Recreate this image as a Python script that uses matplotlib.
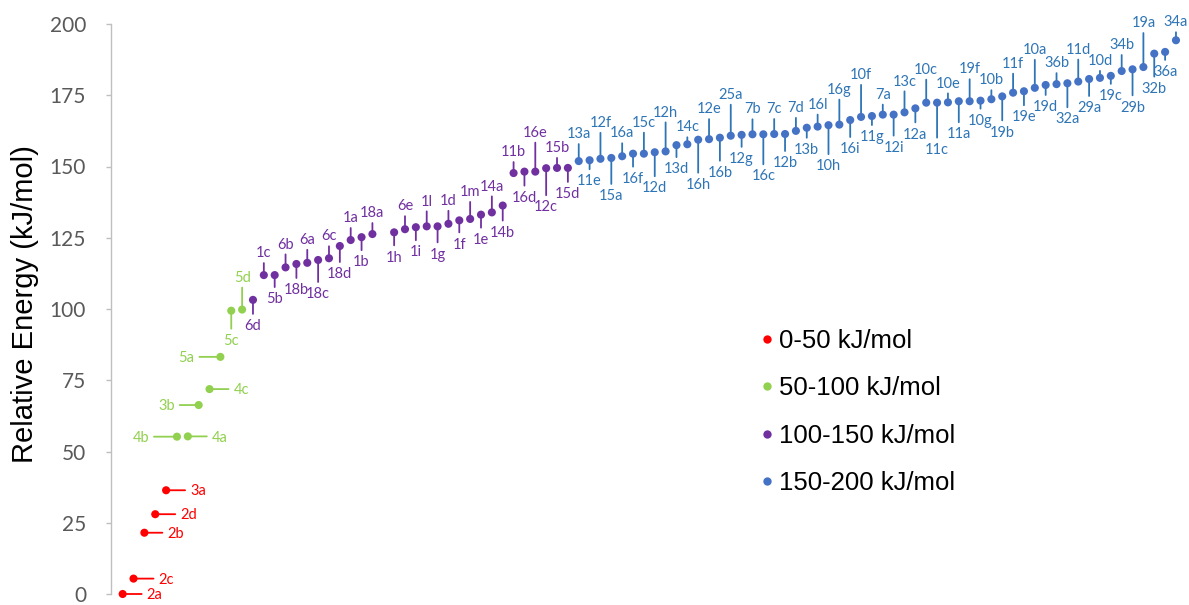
import numpy as np
import matplotlib
matplotlib.use("Agg")
import matplotlib.pyplot as plt
from matplotlib.lines import Line2D

# Compound labels ranked by relative energy ("" marks an empty rank slot)
compounds = [
    "2a", "2c", "2b", "2d", "3a", "4b", "4a", "3b", "4c", "5a",
    "5c", "5d", "6d", "1c", "5b", "6b", "18b", "6a", "18c", "6c",
    "18d", "1a", "1b", "18a", "", "1h", "6e", "1i", "1l", "1g",
    "1d", "1f", "1m", "1e", "14a", "14b", "11b", "16d", "16e", "12c",
    "15b", "15d", "13a", "11e", "12f", "15a", "16a", "16f", "15c", "12d",
    "12h", "13d", "14c", "16h", "12e", "16b", "25a", "12g", "7b", "16c",
    "7c", "12b", "7d", "13b", "16l", "10h", "16g", "16i", "10f", "11g",
    "7a", "12i", "13c", "12a", "10c", "11c", "10e", "11a", "19f", "10g",
    "10b", "19b", "11f", "19e", "10a", "19d", "36b", "32a", "11d", "29a",
    "10d", "19c", "34b", "29b", "19a", "32b", "36a", "34a",
]

# Relative energies in kJ/mol
energies = [
    0.0, 5.4, 21.5, 28.0, 36.4, 55.2, 55.3, 66.3, 71.9, 83.2,
    99.4, 99.8, 103.2, 111.9, 111.9, 114.6, 115.8, 116.2, 117.2, 117.8,
    122.1, 124.2, 125.2, 126.3, np.nan, 126.9, 128.0, 128.7, 129.0, 129.0,
    129.9, 131.1, 131.6, 133.1, 133.9, 136.3, 147.7, 148.2, 148.2, 149.4,
    149.5, 149.5, 151.9, 152.2, 152.7, 153.0, 153.6, 154.5, 154.5, 155.0,
    155.3, 157.5, 157.8, 159.4, 159.6, 160.1, 160.8, 161.1, 161.3, 161.3,
    161.4, 161.4, 162.5, 163.6, 164.0, 164.5, 164.7, 166.3, 167.4, 167.7,
    168.2, 168.2, 169.0, 170.4, 172.4, 172.4, 172.5, 172.9, 172.9, 173.1,
    173.6, 174.6, 175.9, 176.4, 177.6, 178.6, 178.9, 179.2, 179.8, 180.7,
    181.1, 181.8, 183.5, 184.1, 184.9, 189.6, 190.2, 194.3,
]

# Energy bins and legend text
bin_edges = [0, 50, 100, 150, 200]
bin_names = ["0-50 kJ/mol", "50-100 kJ/mol", "100-150 kJ/mol", "150-200 kJ/mol"]
y_ticks = [0, 25, 50, 75, 100, 125, 150, 175, 200]

# Styling per bin: marker colour, label / leader colour
marker_colors = ["#FF0000", "#92D050", "#7030A0", "#4472C4"]
text_colors = ["#FF0000", "#92D050", "#7030A0", "#2E75B6"]

# Label placement in pixels relative to each point (dx right, dy down)
label_offsets = [
    (32, 0), (33, 0), (31, 0), (33, 0), (32, 0), (-36, 0), (32, 0), (-32, 0), (32, 0), (-34, 0),
    (0, 29), (0, -33), (0, 25), (0, -23), (0, 23), (0, -24), (0, 25), (0, -24), (0, 33), (0, -23),
    (0, 27), (0, -23), (0, 24), (0, -22), None, (0, 24), (0, -24), (0, 24), (0, -26), (0, 27),
    (0, -24), (0, 23), (0, -28), (0, 24), (0, -27), (0, 26), (0, -22), (0, 25), (0, -40), (0, 38),
    (0, -21), (0, 25), (0, -28), (0, 20), (0, -37), (0, 37), (0, -24), (0, 24), (0, -32), (0, 35),
    (0, -40), (0, 23), (0, -18), (0, 44), (0, -31), (0, 34), (0, -42), (0, 23), (0, -26), (0, 41),
    (0, -26), (0, 28), (0, -24), (0, 21), (0, -23), (0, 40), (0, -36), (0, 28), (0, -43), (0, 20),
    (0, -21), (0, 32), (0, -32), (0, 25), (0, -34), (0, 46), (0, -20), (0, 32), (0, -33), (0, 19),
    (0, -20), (0, 35), (0, -30), (0, 25), (0, -39), (0, 21), (0, -22), (0, 35), (0, -33), (0, 28),
    (0, -18), (0, 19), (0, -27), (0, 37), (0, -45), (0, 34), (0, 19), (0, -19),
]

PT = 72.0 / 100.0  # points per pixel at 100 dpi
LABEL_FONT = "Lato"
LABEL_SIZE = 10.5
CAP_HALF = 5.2     # half the digit height of data labels, in pixels

fig = plt.figure(figsize=(11.89, 6.05), dpi=100)
ax = fig.add_axes([110.5 / 1189, 11 / 605, 1 - 110.5 / 1189, 570 / 605])

x = np.arange(len(energies))
y = np.array(energies, dtype=float)
bins = np.clip(np.digitize(y, bin_edges[1:-1]), 0, 3)

for i, (name, val) in enumerate(zip(compounds, energies)):
    if np.isnan(val):
        continue
    b = bins[i]
    dx, dy = label_offsets[i]
    # leader line from the marker towards the label
    if dx != 0:
        ex, ey = dx - np.sign(dx) * 13, 0
    else:
        ex, ey = 0, dy - np.sign(dy) * 11
    ax.annotate("", xy=(i, val), xytext=(ex * PT, -ey * PT), textcoords="offset points",
                arrowprops=dict(arrowstyle="-", color=text_colors[b], lw=1.3,
                                shrinkA=0, shrinkB=0),
                annotation_clip=False, zorder=2)
    ax.annotate(name, xy=(i, val), xytext=(dx * PT, -(dy + CAP_HALF) * PT),
                textcoords="offset points", ha="center", va="baseline",
                fontsize=LABEL_SIZE, family=LABEL_FONT, color=text_colors[b],
                annotation_clip=False, zorder=4)

valid = ~np.isnan(y)
ax.scatter(x[valid], y[valid], s=34, c=[marker_colors[b] for b in bins[valid]],
           linewidths=0, zorder=3, clip_on=False)

ax.set_xlim(-1.12, 98.2)
ax.set_ylim(0, 200)
ax.set_yticks(y_ticks)
ax.set_xticks([])
for side in ("top", "right", "bottom"):
    ax.spines[side].set_visible(False)
ax.spines["left"].set_color("#BFBFBF")
ax.spines["left"].set_linewidth(1.0)
ax.tick_params(axis="y", length=3.6, width=1.0, color="#BFBFBF", pad=14,
               labelsize=15, labelcolor="#595959")
for t in ax.get_yticklabels():
    t.set_family(LABEL_FONT)

fig.text(25 / 1189, 1 - 304 / 605, "Relative Energy (kJ/mol)", rotation=90,
         ha="center", va="center", fontsize=21, family="Liberation Sans", color="#000000")

handles = [Line2D([], [], linestyle="none", marker="o", markersize=6,
                  markerfacecolor=c, markeredgewidth=0) for c in marker_colors]
leg = ax.legend(handles, bin_names, loc="center left", frameon=False,
                bbox_to_anchor=(746 / 1189, 1 - 412 / 605), bbox_transform=fig.transFigure,
                prop={"family": "Liberation Sans", "size": 18.5},
                handlelength=0.6, handletextpad=0.2, labelspacing=0.9, borderpad=0)

fig.savefig("out.png", dpi=100)
